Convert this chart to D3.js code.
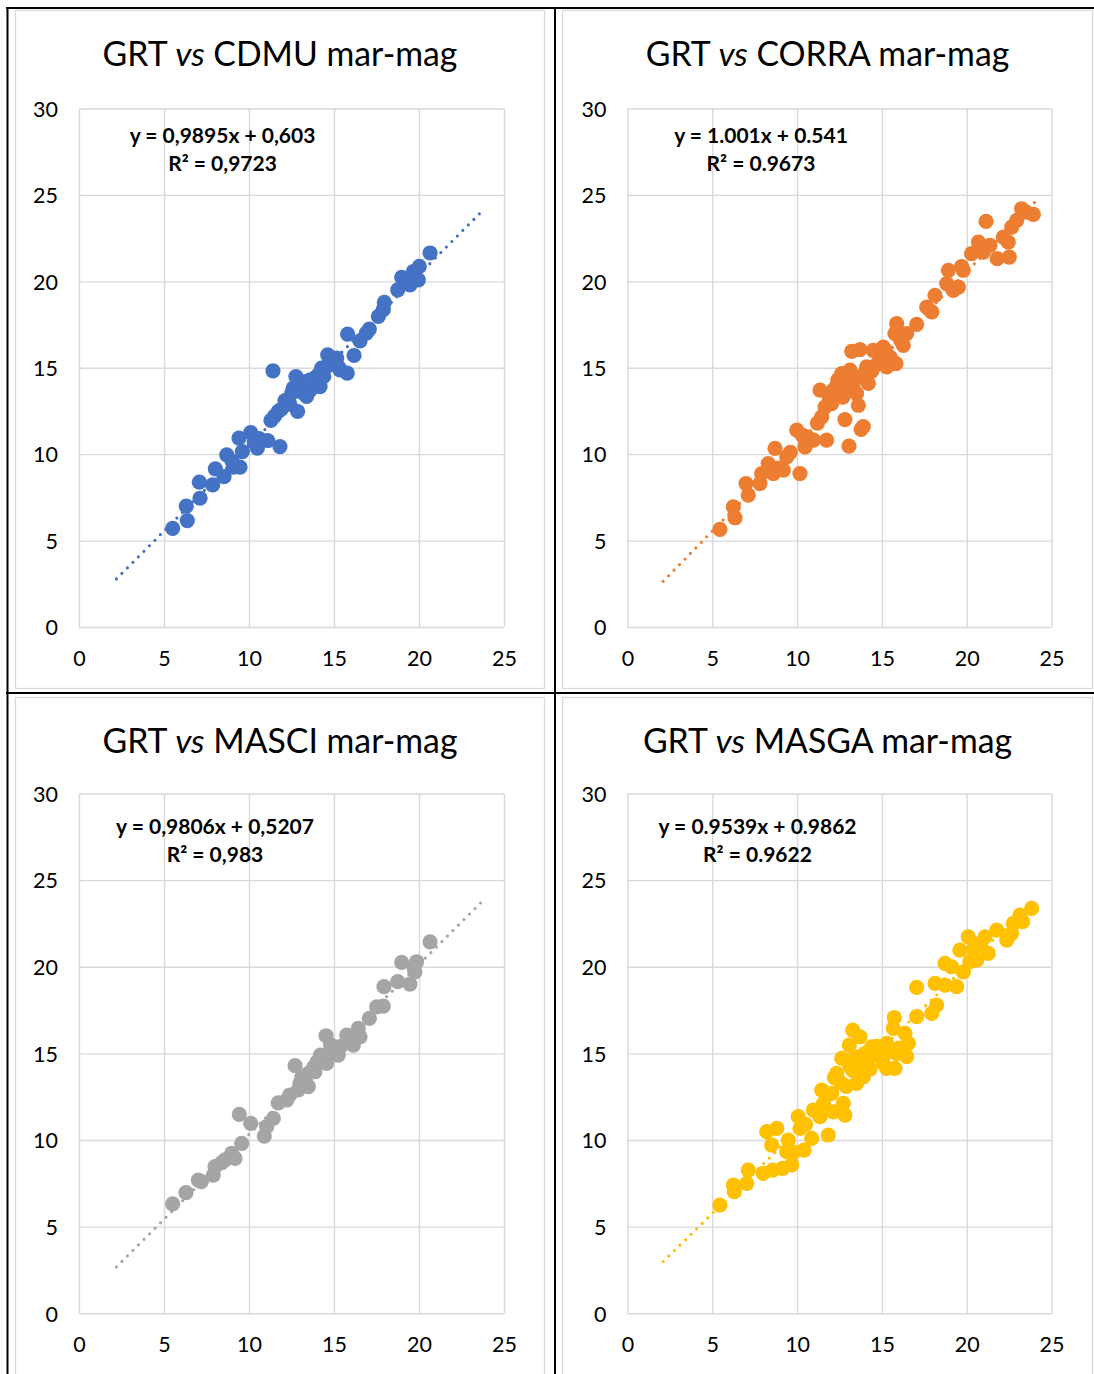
<!DOCTYPE html>
<html>
<head>
<meta charset="utf-8">
<script src="https://cdn.jsdelivr.net/npm/d3@7"></script>
<style>
  html, body { margin: 0; padding: 0; background: #fff; }
  svg { display: block; }
  text { font-family: Lato, "Open Sans", sans-serif; fill: #000; }
</style>
</head>
<body>
<svg id="chart" width="1094" height="1374"></svg>
<script>
// ---- data ----
const seriesNames = ["CDMU", "CORRA", "MASCI", "MASGA"];
const seriesColors = ["#4472C4", "#ED7D31", "#A5A5A5", "#FFC000"];
const xTicks = [0, 5, 10, 15, 20, 25];
const yTicks = [0, 5, 10, 15, 20, 25, 30];

const equationLines = [
  ["y = 0,9895x + 0,603", "R² = 0,9723"],
  ["y = 1.001x + 0.541", "R² = 0.9673"],
  ["y = 0,9806x + 0,5207", "R² = 0,983"],
  ["y = 0.9539x + 0.9862", "R² = 0.9622"]
];
const slopes = [0.9895, 1.001, 0.9806, 0.9539];
const intercepts = [0.603, 0.541, 0.5207, 0.9862];
const trendFrom = [2.2, 2.1, 2.2, 2.1];
const trendTo = [23.65, 24.0, 23.65, 24.0];

// GRT (x) vs method (y), mar-mag
const cdmuPoints = [
  [5.51,5.71],[6.37,6.16],[6.31,7.0],[7.12,7.45],[7.08,8.38],[7.86,8.22],[8.02,9.15],[8.53,8.70],
  [8.69,9.96],[9.08,9.25],[9.47,9.25],[9.61,10.15],[9.41,10.93],[10.1,11.25],[10.49,10.35],[11.1,10.79],
  [11.82,10.44],[10.6,10.9],[11.41,14.82],[11.29,11.95],[11.72,12.47],[12.12,13.1],[12.86,12.47],[12.76,14.49],
  [12.6,13.82],[13.2,13.53],[13.78,14.2],[14.18,13.91],[14.27,14.98],[14.63,15.75],[15.16,15.56],[15.35,14.88],
  [15.78,14.69],[16.18,15.71],[15.8,16.95],[16.53,16.56],[17.08,17.24],[17.61,17.97],[17.96,18.78],[17.9,18.36],
  [18.75,19.51],[18.98,20.23],[19.47,19.8],[19.96,20.09],[19.67,20.57],[20.02,20.86],[20.65,21.64],[15.3,15.0],
  [13.0,13.9],[13.6,13.7],[13.98,14.49],[13.39,13.34],[12.51,13.53],[14.96,15.27],[14.6,15.1],[11.5,12.2],
  [12.4,12.9],[13.3,14.2],[14.1,14.6],[16.9,17.0],[19.3,20.0],[13.6,14.3],[14.4,14.5],[9.0,9.6],
  [10.3,10.7],[11.9,12.6]
];
const corraPoints = [
  [5.45,5.65],[6.34,6.32],[6.24,6.95],[7.12,7.63],[6.99,8.3],[7.81,8.3],[7.91,8.88],[8.3,9.46],
  [8.7,10.33],[8.6,8.88],[9.19,9.08],[9.39,9.84],[10.17,8.88],[9.98,11.39],[10.47,10.42],[10.96,10.81],
  [10.6,11.0],[11.74,10.81],[11.45,12.16],[11.65,12.73],[11.35,13.7],[12.14,13.7],[12.04,12.93],[12.82,12.0],
  [13.06,10.46],[13.77,11.43],[13.9,11.6],[12.63,14.66],[13.12,14.86],[12.92,13.7],[13.61,12.83],[13.51,13.51],
  [13.22,15.95],[13.71,16.05],[14.2,14.09],[14.1,15.05],[14.49,16.01],[14.89,15.43],[15.08,16.2],[15.28,15.05],
  [15.83,15.24],[15.87,17.55],[15.77,16.98],[16.26,16.3],[16.46,16.98],[17.05,17.51],[17.64,18.51],[17.94,18.23],
  [18.13,19.19],[18.92,20.64],[18.82,19.87],[19.21,19.48],[19.51,19.67],[19.8,20.64],[19.7,20.85],[20.29,21.6],
  [20.69,22.27],[20.98,21.69],[21.37,22.08],[21.14,23.47],[21.8,21.31],[22.51,21.4],[22.45,22.27],[22.16,22.56],
  [22.65,23.14],[22.95,23.53],[23.24,24.2],[23.93,23.87],[23.5,24.0],[12.3,13.9],[12.7,13.3],[13.3,14.0],
  [13.8,14.5],[14.7,15.2],[15.5,15.6],[16.1,16.6],[11.9,13.2],[10.3,11.1],[9.6,10.1],[8.9,9.2],
  [14.4,14.8],[12.4,14.3],[15.2,16.0],[13.0,14.2],[14.0,14.7],[11.2,11.8],[15.0,15.4]
];
const masciPoints = [
  [5.51,6.31],[6.29,6.96],[7.02,7.69],[7.2,7.6],[7.9,7.98],[8.0,8.46],[8.59,8.85],[8.98,9.23],
  [9.18,8.94],[9.57,9.81],[9.43,11.48],[10.1,10.96],[10.9,10.23],[11.04,10.77],[11.43,11.25],[11.72,12.15],
  [12.22,12.31],[12.71,14.29],[12.9,12.89],[13.0,13.27],[13.49,13.08],[13.49,13.85],[13.88,13.94],[14.18,14.62],
  [14.57,14.43],[14.53,16.02],[14.96,15.19],[15.25,14.9],[14.8,15.5],[15.75,16.06],[16.14,15.48],[16.43,16.44],
  [16.53,15.96],[17.08,17.02],[17.51,17.69],[17.9,17.73],[17.94,18.85],[18.75,19.14],[18.98,20.25],[19.47,19.0],
  [19.76,19.71],[19.86,20.29],[19.7,20.0],[20.65,21.44],[13.8,14.2],[13.3,13.5],[15.4,15.4],[8.4,8.7],
  [12.4,12.6],[14.2,14.9],[13.1,13.6],[14.0,14.5]
];
const masgaPoints = [
  [5.45,6.25],[6.3,7.02],[6.24,7.4],[7.03,7.5],[7.12,8.27],[8.0,8.08],[8.56,8.27],[9.15,8.37],
  [9.68,8.56],[8.21,10.48],[8.8,10.67],[8.5,9.71],[9.39,9.33],[9.48,10.0],[10.07,11.35],[10.17,10.67],
  [10.41,9.42],[10.86,10.1],[10.96,11.73],[11.35,11.35],[11.84,10.29],[11.45,12.88],[12.04,12.69],[12.14,11.63],
  [12.82,11.44],[12.72,12.12],[12.33,13.85],[12.63,14.71],[13.08,15.48],[13.28,16.35],[13.71,15.96],[13.12,14.23],
  [13.51,13.27],[13.9,13.65],[14.1,14.43],[14.4,15.38],[14.89,15.19],[15.28,15.58],[15.08,14.43],[15.28,14.14],
  [15.77,14.14],[15.87,15.0],[16.46,14.81],[16.56,15.58],[16.36,16.16],[15.67,16.44],[15.73,17.06],[17.05,17.12],
  [17.94,17.31],[18.23,17.79],[17.05,18.81],[18.13,19.04],[18.72,18.94],[19.41,18.85],[18.72,20.2],[19.11,20.0],
  [19.8,19.71],[19.6,20.96],[20.19,20.29],[20.09,21.73],[20.59,20.39],[20.78,21.35],[21.08,21.73],[21.27,20.77],
  [21.77,22.12],[22.36,21.54],[22.65,21.93],[22.75,22.5],[23.14,22.98],[23.83,23.37],[23.3,22.6],[13.5,14.8],
  [13.9,14.2],[14.3,14.1],[14.7,15.4],[12.2,13.6],[12.9,13.1],[11.55,12.1],[10.5,10.9],[9.8,9.3],
  [13.0,14.6],[14.5,14.9],[16.0,15.3],[20.4,21.0],[13.3,14.0],[14.0,15.0],[12.6,13.3],[15.5,15.1]
];
const allPoints = [cdmuPoints, corraPoints, masciPoints, masgaPoints];

// ---- layout ----
const svg = d3.select("#chart");
const colFrame = [{x: 15, w: 530}, {x: 562, w: 531}];
const rowFrame = [{y: 10, h: 679}, {y: 697, h: 690}];
const colPlot = [{x0: 79, x1: 504}, {x0: 627.5, x1: 1051.5}];
const rowPlot = [{y0: 108.5, y1: 627}, {y0: 793.5, y1: 1313.3}];
// equation label anchor, relative to the plot's top-left corner
const eqAnchor = [{dx: 143.5, dy: 34}, {dx: 133.5, dy: 34}, {dx: 136, dy: 40}, {dx: 130, dy: 40}];
const grid = "#d9d9d9";

seriesNames.forEach((name, i) => {
  const c = i % 2, r = Math.floor(i / 2);
  const cf = colFrame[c], rf = rowFrame[r];
  const cp = colPlot[c], rp = rowPlot[r];
  const g = svg.append("g");

  // chart frame
  g.append("rect")
    .attr("x", cf.x + 0.5).attr("y", rf.y + 0.5)
    .attr("width", cf.w - 1).attr("height", rf.h - 1)
    .attr("fill", "#fff").attr("stroke", grid).attr("stroke-width", 1.3);

  // title
  const title = g.append("text")
    .attr("x", cf.x + cf.w / 2).attr("y", rf.y + 56)
    .attr("text-anchor", "middle")
    .attr("font-size", 33.8);
  title.append("tspan").text("GRT ");
  title.append("tspan").attr("font-style", "italic").text("vs");
  title.append("tspan").text(" " + name + " mar-mag");

  const x = d3.scaleLinear().domain([0, 25]).range([cp.x0, cp.x1]);
  const y = d3.scaleLinear().domain([0, 30]).range([rp.y1, rp.y0]);

  // gridlines
  g.append("g").attr("transform", `translate(0,${rp.y1})`)
    .call(d3.axisBottom(x).tickValues(xTicks).tickSize(-(rp.y1 - rp.y0)).tickFormat(""))
    .call(s => s.select(".domain").remove())
    .call(s => s.selectAll("line").attr("stroke", grid).attr("stroke-width", 1.4));
  g.append("g").attr("transform", `translate(${cp.x0},0)`)
    .call(d3.axisLeft(y).tickValues(yTicks).tickSize(-(cp.x1 - cp.x0)).tickFormat(""))
    .call(s => s.select(".domain").remove())
    .call(s => s.selectAll("line").attr("stroke", grid).attr("stroke-width", 1.4));

  // tick labels
  g.append("g").attr("transform", `translate(0,${rp.y1 + 31})`)
    .call(d3.axisBottom(x).tickValues(xTicks).tickSize(0).tickPadding(0).tickFormat(d3.format("d")))
    .call(s => s.select(".domain").remove())
    .call(s => s.selectAll("text").attr("font-size", 21.5).attr("font-family", "Lato")
      .attr("fill", "#000").attr("dy", "0.36em").attr("y", 0));
  g.append("g").attr("transform", `translate(${cp.x0 - 21},0)`)
    .call(d3.axisLeft(y).tickValues(yTicks).tickSize(0).tickPadding(0).tickFormat(d3.format("d")))
    .call(s => s.select(".domain").remove())
    .call(s => s.selectAll("text").attr("font-size", 21.5).attr("font-family", "Lato")
      .attr("fill", "#000").attr("dy", "0.36em"));

  // data points
  g.append("g").selectAll("circle").data(allPoints[i]).join("circle")
    .attr("cx", d => x(d[0])).attr("cy", d => y(d[1]))
    .attr("r", 7.6).attr("fill", seriesColors[i]);

  // linear trend line (dotted)
  const tx = [trendFrom[i], trendTo[i]];
  g.append("path")
    .datum(tx.map(v => [v, slopes[i] * v + intercepts[i]]))
    .attr("d", d3.line().x(d => x(d[0])).y(d => y(d[1])))
    .attr("fill", "none").attr("stroke", seriesColors[i])
    .attr("stroke-width", 3.2).attr("stroke-linecap", "round")
    .attr("stroke-dasharray", "0 7.8");

  // regression equation
  const eqX = cp.x0 + eqAnchor[i].dx;
  const eqY = rp.y0 + eqAnchor[i].dy;
  const eq = g.append("text").attr("text-anchor", "middle")
    .attr("font-size", 21).attr("font-weight", "bold");
  equationLines[i].forEach((t, k) => {
    eq.append("tspan").attr("x", eqX).attr("y", eqY + k * 28.5).text(t);
  });
});

// table rules
const rules = svg.append("g").attr("stroke", "#000").attr("stroke-width", 2);
rules.append("line").attr("x1", 6).attr("x2", 1094).attr("y1", 8).attr("y2", 8);
rules.append("line").attr("x1", 7.5).attr("x2", 7.5).attr("y1", 7).attr("y2", 1374);
rules.append("line").attr("x1", 555).attr("x2", 555).attr("y1", 7).attr("y2", 1374);
rules.append("line").attr("x1", 6).attr("x2", 1094).attr("y1", 693).attr("y2", 693);
</script>
</body>
</html>
